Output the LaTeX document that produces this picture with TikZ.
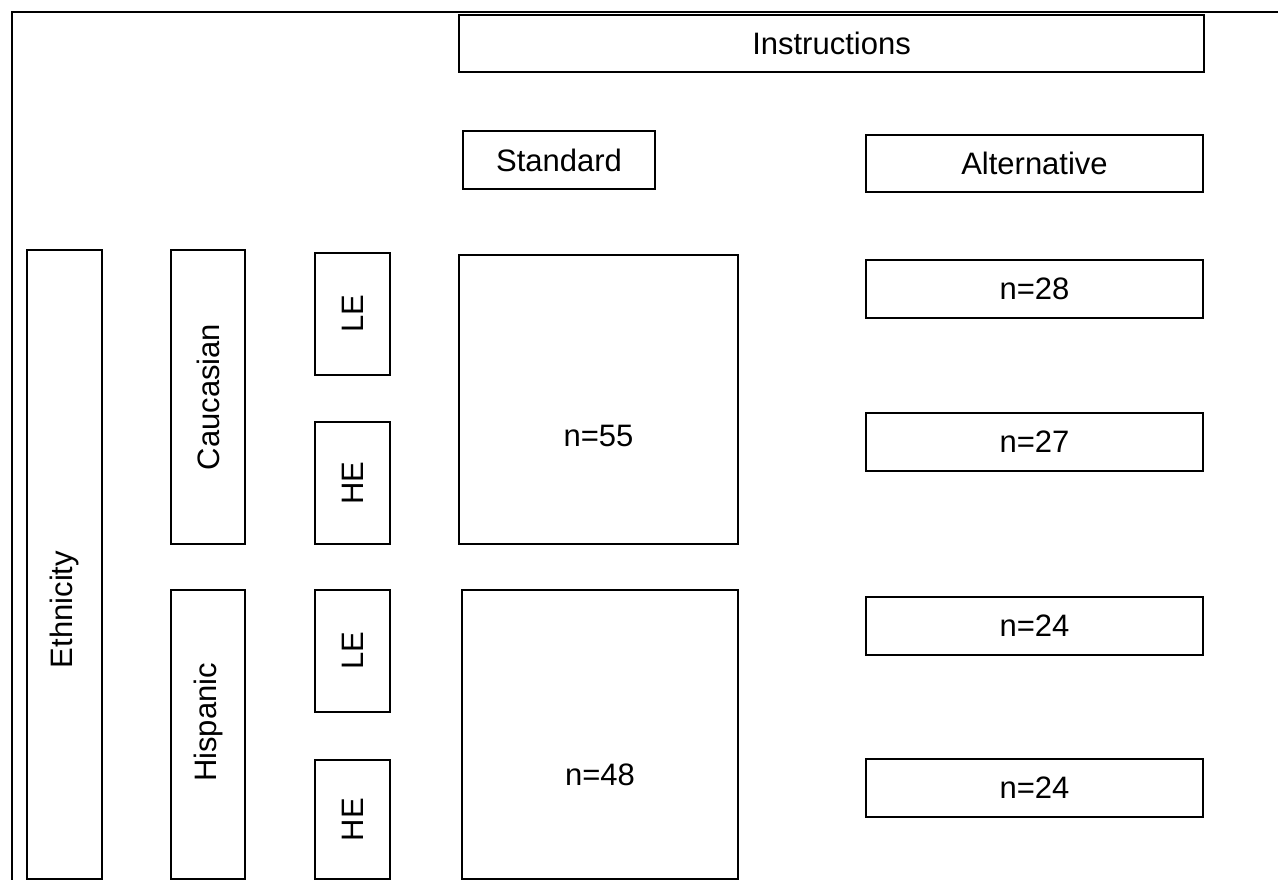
\documentclass[tikz,border=0pt]{standalone}
\usepackage{fontspec}
\setmainfont{Liberation Sans}
\usetikzlibrary{calc}

\begin{document}
\begin{tikzpicture}[x=1pt,y=-1pt,
  cell/.style={draw,line width=1.8pt,inner sep=0pt,font=\fontsize{31}{36}\selectfont},
  vtext/.style={rotate=90,font=\fontsize{31}{36}\selectfont}]
\useasboundingbox (0,0) rectangle (1278,880);

\draw[line width=2.2pt] (1278,12) -- (12,12) -- (12,880);

% column heads
\node[cell,minimum width=745pt,minimum height=57pt] (instr) at (831.5,43.5) {Instructions};
\node[cell,minimum width=192pt,minimum height=58pt] (std) at (559,160) {Standard};
\node[cell,minimum width=337pt,minimum height=57pt] (alt) at (1034.5,163.5) {Alternative};

% row heads
\node[cell,minimum width=75pt,minimum height=629pt,label={[vtext,xshift=-45pt]center:Ethnicity}] (eth) at (64.5,564.5) {};
\node[cell,minimum width=74pt,minimum height=294pt] (cauc) at (208,397) {\rotatebox{90}{Caucasian}};
\node[cell,minimum width=74pt,minimum height=289pt,label={[vtext,xshift=12pt]center:Hispanic}] (hisp) at (208,734.5) {};

\node[cell,minimum width=75pt,minimum height=122pt] (leC) at (352.5,314) {\rotatebox{90}{LE}};
\node[cell,minimum width=75pt,minimum height=122pt] (heC) at (352.5,483) {\rotatebox{90}{HE}};
\node[cell,minimum width=75pt,minimum height=122pt] (leH) at (352.5,651) {\rotatebox{90}{LE}};
\node[cell,minimum width=75pt,minimum height=119pt] (heH) at (352.5,819.5) {\rotatebox{90}{HE}};

% cells
\node[cell,minimum width=279pt,minimum height=289pt,label={[font=\fontsize{31}{36}\selectfont,yshift=-36pt]center:n=55}] (stdC) at (598.5,399.5) {};
\node[cell,minimum width=276pt,minimum height=289pt,label={[font=\fontsize{31}{36}\selectfont,yshift=-40pt]center:n=48}] (stdH) at (600,734.5) {};

\node[cell,minimum width=337pt,minimum height=58pt] (altCL) at (1034.5,289) {n=28};
\node[cell,minimum width=337pt,minimum height=58pt] (altCH) at (1034.5,442) {n=27};
\node[cell,minimum width=337pt,minimum height=58pt] (altHL) at (1034.5,626) {n=24};
\node[cell,minimum width=337pt,minimum height=58pt] (altHH) at (1034.5,788) {n=24};

\end{tikzpicture}
\end{document}
